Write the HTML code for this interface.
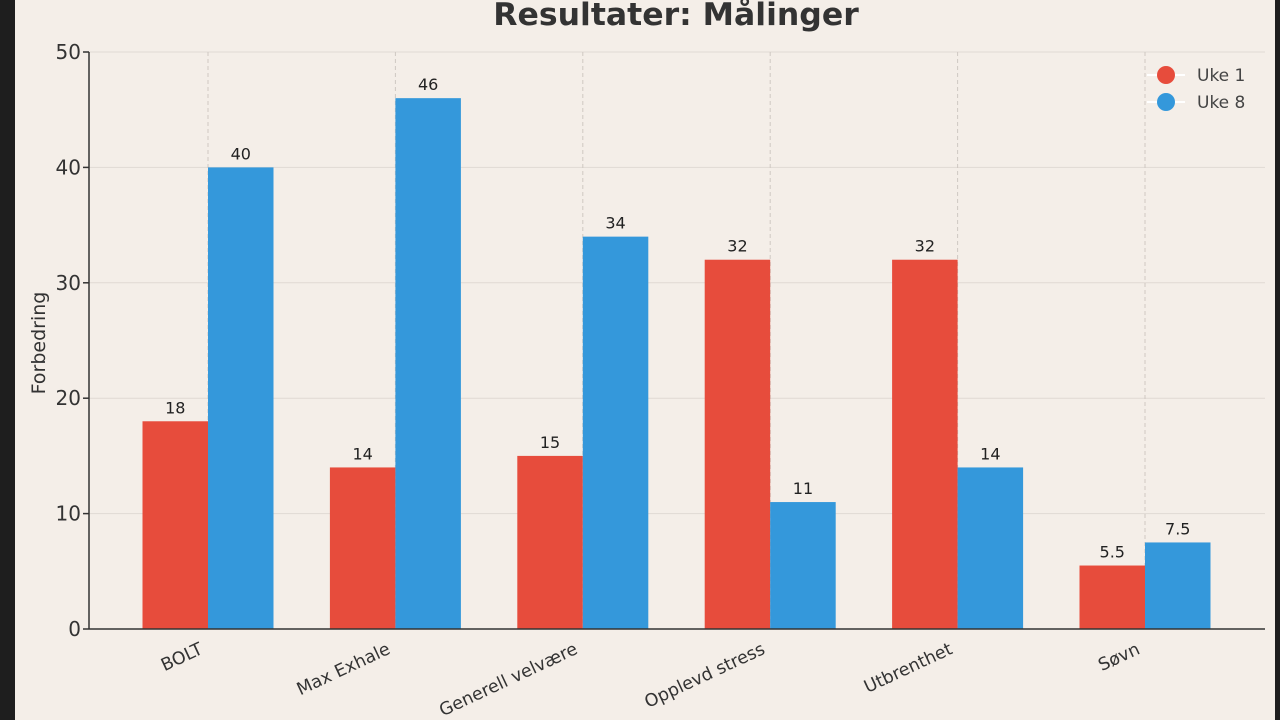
<!DOCTYPE html>
<html><head><meta charset="utf-8"><style>
html,body{margin:0;padding:0;background:#1e1e1e;}
#wrap{position:absolute;left:15px;top:0;width:1260px;height:720px;background:#f4eee8;}
svg{position:absolute;left:0;top:0;font-family:"DejaVu Sans","Liberation Sans",sans-serif;}
</style></head><body>
<div id="wrap"></div>
<svg id="chart" width="1280" height="720"></svg>
<script>
const categories=["BOLT","Max Exhale","Generell velvære","Opplevd stress","Utbrenthet","Søvn"];
const uke1=[18,14,15,32,32,5.5];
const uke8=[40,46,34,11,14,7.5];
const yTicks=[0,10,20,30,40,50];
const NS="http://www.w3.org/2000/svg";
const svg=document.getElementById('chart');
const x0=89,x1=1265,y0=629,yTop=52,yMax=50;
const y=v=>y0-(v/yMax)*(y0-yTop);
const step=187.4,first=208;
const xc=i=>first+i*step;
const bw=65.5;
function mk(t,a,txt){const e=document.createElementNS(NS,t);for(const k in a)e.setAttribute(k,a[k]);if(txt!==undefined)e.textContent=txt;svg.appendChild(e);return e;}
mk('text',{x:676,y:25,'text-anchor':'middle','font-size':31.5,'font-weight':'bold',fill:'#333',},'Resultater: Målinger');
yTicks.forEach(t=>{
 const g=mk('line',{x1:x0,x2:x1,y1:y(t),y2:y(t),stroke:'#e0d9d3','stroke-width':1});
 
 
 mk('line',{x1:x0-6,x2:x0,y1:y(t),y2:y(t),stroke:'#333','stroke-width':1.5});
 const l=mk('text',{x:x0-8,y:y(t)+7,'text-anchor':'end','font-size':20,fill:'#333'},String(t));
 
 
});
categories.forEach((c,i)=>{
 const g=mk('line',{x1:xc(i),x2:xc(i),y1:yTop,y2:y0,stroke:'#cfc8c2','stroke-width':1,'stroke-dasharray':'4,3'});
 
 
});
categories.forEach((c,i)=>{
 const r=mk('rect',{x:xc(i)-bw,y:y(uke1[i]),width:bw,height:y0-y(uke1[i]),fill:'#e74c3c'});
 
 
 const b=mk('rect',{x:xc(i),y:y(uke8[i]),width:bw,height:y0-y(uke8[i]),fill:'#3498db'});
 
 
 const t1=mk('text',{x:xc(i)-bw/2,y:y(uke1[i])-8,'text-anchor':'middle','font-size':16,fill:'#222'},String(uke1[i]));
 
 
 const t2=mk('text',{x:xc(i)+bw/2,y:y(uke8[i])-8,'text-anchor':'middle','font-size':16,fill:'#222'},String(uke8[i]));
 
 
 const ax=xc(i)-4, ay=y0+24;
 const xl=mk('text',{x:ax,y:ay,'text-anchor':'end','font-size':17.5,fill:'#333',transform:`rotate(-25 ${ax} ${ay})`},c);
 
 
});
mk('line',{x1:x0,x2:x0,y1:yTop,y2:y0,stroke:'#333','stroke-width':1.5,});
mk('line',{x1:x0,x2:x1,y1:y0,y2:y0,stroke:'#333','stroke-width':1.5,});
mk('text',{x:45,y:343,'text-anchor':'middle','font-size':19,fill:'#333',transform:'rotate(-90 45 343)',},'Forbedring');
[["Uke 1","#e74c3c",75],["Uke 8","#3498db",102]].forEach(([n,col,ly])=>{
 mk('line',{x1:1147,x2:1185,y1:ly,y2:ly,stroke:'#fff','stroke-width':2});
 const c=mk('circle',{cx:1166,cy:ly,r:9,fill:col});
 
 
 const t=mk('text',{x:1197,y:ly+6,'font-size':17,fill:'#444'},n);
 
 
});
</script>
</body></html>
